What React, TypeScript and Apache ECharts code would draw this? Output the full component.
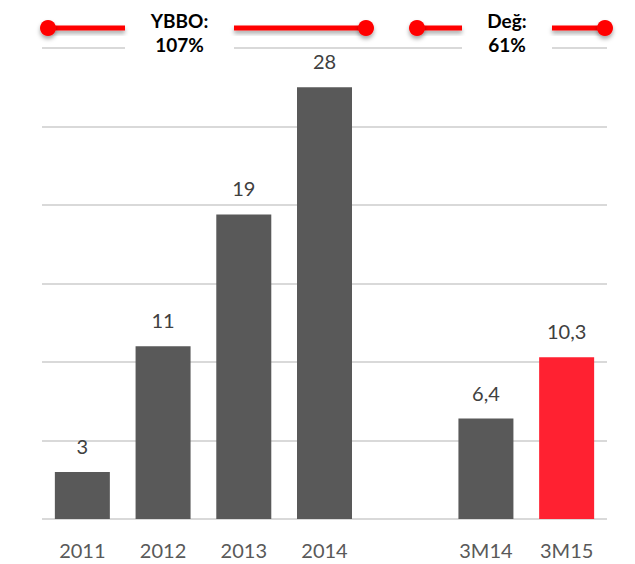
import React, { useEffect, useRef } from "react";
import * as echarts from "echarts";

const categories = ["2011", "2012", "2013", "2014", "", "3M14", "3M15"];
const values: (number | null)[] = [3, 11, 19.4, 27.5, null, 6.4, 10.3];
const annualCount = 4;
const highlightIndex = 6;
const yTicks = { min: 0, max: 30, interval: 5 };
const badges = [
  { text: "YBBO:\n107%", x1: 48, gapL: 125, gapR: 234, x2: 366 },
  { text: "Değ:\n61%", x1: 417, gapL: 462, gapR: 552, x2: 605 },
];

export default function App() {
  const ref = useRef<HTMLDivElement>(null);
  useEffect(() => {
    const chart = echarts.init(ref.current!, null, { renderer: "svg" });
    const lineY = 28;
    const shadow = { shadowBlur: 4, shadowOffsetY: 3, shadowColor: "rgba(0,0,0,0.35)" };
    const graphic: any[] = [];
    badges.forEach((b) => {
      graphic.push({
        type: "rect",
        z: 100,
        shape: { x: b.gapL, y: 6, width: b.gapR - b.gapL, height: 56 },
        style: { fill: "#fff" },
      });
      graphic.push({
        type: "rect",
        z: 101,
        shape: { x: b.x1, y: lineY - 2.5, width: b.gapL - b.x1, height: 5 },
        style: { fill: "#FF0000", ...shadow },
      });
      graphic.push({
        type: "rect",
        z: 101,
        shape: { x: b.gapR, y: lineY - 2.5, width: b.x2 - b.gapR, height: 5 },
        style: { fill: "#FF0000", ...shadow },
      });
      [b.x1, b.x2].forEach((cx) =>
        graphic.push({
          type: "circle",
          z: 102,
          shape: { cx, cy: lineY, r: 8 },
          style: { fill: "#FF0000", ...shadow },
        })
      );
      graphic.push({
        type: "text",
        z: 103,
        x: (b.gapL + b.gapR) / 2,
        y: 32,
        style: {
          text: b.text,
          fill: "#000",
          font: "bold 19px Lato",
          lineHeight: 24,
          align: "center",
          verticalAlign: "middle",
        },
      });
    });

    chart.setOption({
      animation: false,
      grid: { left: 42, right: 28, top: 48, bottom: 45, containLabel: false },
      xAxis: {
        type: "category",
        data: categories,
        axisLine: { show: false },
        axisTick: { show: false },
        axisLabel: { color: "#595959", fontSize: 20, fontFamily: "Lato", margin: 21 },
      },
      yAxis: {
        type: "value",
        min: yTicks.min,
        max: yTicks.max,
        interval: yTicks.interval,
        axisLabel: { show: false },
        axisLine: { show: false },
        axisTick: { show: false },
        splitLine: { lineStyle: { color: "#D9D9D9", width: 2 } },
      },
      series: [
        {
          type: "bar",
          barWidth: 55,
          data: values.map((v, i) => ({
            value: v,
            itemStyle: { color: i === highlightIndex ? "#FF2131" : "#595959" },
          })),
          label: {
            show: true,
            position: "top",
            distance: 16,
            color: "#404040",
            fontSize: 20,
            fontFamily: "Lato",
            formatter: (p: any) =>
              p.dataIndex < annualCount
                ? String(Math.round(p.value))
                : String(p.value).replace(".", ","),
          },
        },
      ],
      graphic,
    });
    return () => chart.dispose();
  }, []);
  return (
    <div
      ref={ref}
      style={{ position: "fixed", left: 0, top: 0, width: 635, height: 564, background: "#fff" }}
    />
  );
}
